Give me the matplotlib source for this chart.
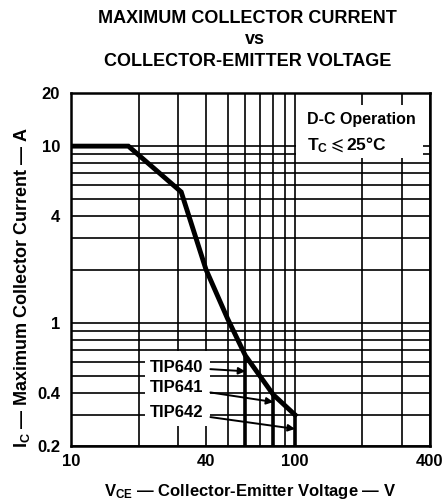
import matplotlib
matplotlib.use("Agg")
import matplotlib.pyplot as plt
from matplotlib.patches import Rectangle

# safe operating curve
vce = [10, 18, 31, 40, 50, 60, 80, 100]
ic = [10, 10, 5.5, 2.0, 1.05, 0.65, 0.39, 0.3]

devices = ["TIP640", "TIP641", "TIP642"]
vce_max = [60, 80, 100]
ic_at_max = [0.65, 0.39, 0.3]
label_y = [0.56, 0.43, 0.31]
arrow_y = [0.53, 0.355, 0.25]

x_major = [10, 40, 100, 400]
x_minor = [20, 30, 50, 60, 70, 80, 90, 200, 300]
y_major = [0.2, 0.4, 1, 4, 10, 20]
y_minor = [0.3, 0.5, 0.6, 0.7, 0.8, 0.9, 2, 3, 5, 6, 7, 8, 9]

plt.rcParams["font.family"] = ["Liberation Sans", "DejaVu Sans"]
plt.rcParams["font.weight"] = "bold"
plt.rcParams["axes.labelweight"] = "bold"
plt.rcParams["mathtext.fontset"] = "custom"
plt.rcParams["mathtext.rm"] = "Liberation Sans:bold"
plt.rcParams["mathtext.it"] = "Liberation Sans:bold"
plt.rcParams["mathtext.bf"] = "Liberation Sans:bold"
plt.rcParams["mathtext.fallback"] = "stixsans"

fig = plt.figure(figsize=(4.45, 5.0), dpi=100)
ax = fig.add_axes([0.16, 0.108, 0.806, 0.706])
ax.set_xscale("log")
ax.set_yscale("log")
ax.set_xlim(10, 400)
ax.set_ylim(0.2, 20)

ax.set_xticks(x_major)
ax.set_xticks(x_minor, minor=True)
ax.set_xticklabels([str(v) for v in x_major])
ax.set_yticks(y_major)
ax.set_yticks(y_minor, minor=True)
ax.set_yticklabels([f"{v:g}" for v in y_major])
ax.xaxis.set_minor_formatter(plt.NullFormatter())
ax.yaxis.set_minor_formatter(plt.NullFormatter())
ax.tick_params(which="both", length=0, labelsize=12)
ax.tick_params(axis="x", pad=6)
ax.tick_params(axis="y", pad=8)

ax.set_axisbelow(True)
ax.grid(which="both", color="black", lw=1.2)
for s in ax.spines.values():
    s.set_linewidth(1.8)

# blank areas behind the notes
ax.add_patch(Rectangle((101, 8.6), 271, 8.5, fc="white", ec="none", zorder=1))
ax.add_patch(Rectangle((21.4, 0.26), 20.3, 0.43, fc="white", ec="none", zorder=1))

ax.plot(vce, ic, color="black", lw=3.5, solid_joinstyle="miter", zorder=3)
for v, top in zip(vce_max, ic_at_max):
    ax.plot([v, v], [0.2, top], color="black", lw=2.6, zorder=3)

for name, ly, v, ay in zip(devices, label_y, vce_max, arrow_y):
    ax.annotate(name, xy=(v, ay), xytext=(22.5, ly), fontsize=12,
                va="center", ha="left", zorder=4,
                arrowprops=dict(arrowstyle="-|>", color="black", lw=1.4,
                                mutation_scale=10, shrinkA=3, shrinkB=0))

ax.text(0.657, 0.924, "D-C Operation", transform=ax.transAxes, fontsize=11.5,
        ha="left", va="center", zorder=4)
ax.text(0.657, 0.853, "T$_{\\rm C}$$\\leqslant$25°C", transform=ax.transAxes,
        fontsize=12.5, ha="left", va="center", zorder=4)

ax.set_xlabel("V$_{\\rm CE}$ — Collector-Emitter Voltage — V", fontsize=12,
              labelpad=9)
ax.set_ylabel("I$_{\\rm C}$ — Maximum Collector Current — A", fontsize=13)
ax.yaxis.set_label_coords(-0.11, 0.45)

fig.text(0.557, 0.963, "MAXIMUM COLLECTOR CURRENT", ha="center", va="center",
         fontsize=13)
fig.text(0.573, 0.92, "vs", ha="center", va="center", fontsize=13)
fig.text(0.557, 0.877, "COLLECTOR-EMITTER VOLTAGE", ha="center", va="center",
         fontsize=13)

fig.savefig("out.png", dpi=100)
